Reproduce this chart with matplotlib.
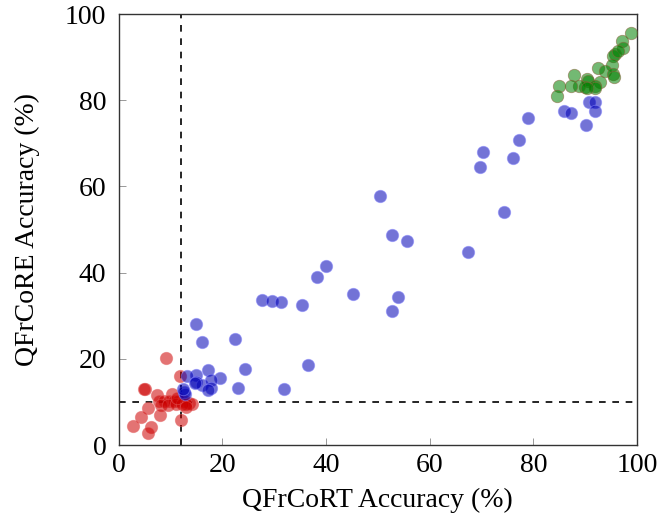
import matplotlib
matplotlib.use("Agg")
import matplotlib.pyplot as plt

plt.rcParams['font.family'] = ['Liberation Serif', 'DejaVu Serif']

# red: both accuracies low
red_x = [9.1, 11.9, 5.0, 4.9, 7.4, 10.3, 7.7, 8.7, 9.6, 10.6, 11.5, 12.5, 13.5, 14.1,
         8.2, 9.4, 11.0, 12.2, 13.0, 5.6, 8.0, 4.3, 12.0, 2.8, 6.2, 5.6, 12.9, 11.3]
red_y = [20.2, 16.0, 13.0, 13.0, 11.6, 11.9, 10.1, 10.1, 10.1, 10.1, 10.1, 10.3, 9.8, 9.6,
         9.3, 9.3, 9.4, 9.4, 9.5, 8.5, 7.0, 6.4, 5.7, 4.3, 4.1, 2.7, 8.8, 11.0]

# blue: in between
blue_x = [50.4, 52.8, 55.7, 40.0, 38.2, 45.2, 53.9, 52.8, 27.7, 29.5, 31.3, 35.3,
          14.9, 16.1, 22.5, 36.5, 24.3, 17.2, 19.5, 14.9, 13.1, 14.9, 16.0, 17.8,
          17.8, 17.2, 23.0, 31.8, 12.5, 12.7, 12.4, 14.7,
          79.0, 77.2, 70.3, 76.1, 69.7, 74.3, 67.4, 85.9, 87.2, 90.1, 90.7, 91.9, 91.9]
blue_y = [57.7, 48.7, 47.4, 41.5, 39.1, 35.0, 34.3, 31.2, 33.7, 33.4, 33.1, 32.4,
          28.0, 24.0, 24.7, 18.5, 17.7, 17.5, 15.6, 16.3, 15.9, 14.7, 13.9, 15.1,
          13.3, 12.8, 13.3, 13.0, 12.4, 11.8, 12.9, 14.4,
          76.0, 70.7, 68.0, 66.7, 64.4, 54.0, 44.7, 77.5, 77.1, 74.2, 79.7, 79.7, 77.5]

# green: both accuracies high
green_x = [98.8, 97.1, 97.3, 95.8, 95.3, 95.2, 92.4, 93.9, 95.4, 95.6, 87.9, 90.3,
           90.6, 92.9, 92.0, 92.0, 89.9, 88.8, 87.2, 84.9, 84.5, 90.4, 96.4]
green_y = [95.7, 93.8, 92.1, 90.8, 90.2, 88.2, 87.6, 86.8, 86.0, 85.5, 85.9, 85.0,
           84.4, 84.3, 83.3, 82.8, 83.1, 83.2, 83.3, 83.2, 81.0, 82.8, 91.5]

x_cut = 12
y_cut = 10

fig = plt.figure(figsize=(6.6, 5.22), dpi=100)
ax = fig.add_axes([0.180, 0.1475, 0.785, 0.8255])

ax.scatter(red_x, red_y, s=80, facecolor=(0.8, 0, 0, 0.55), edgecolor=(0.9, 0.4, 0.4, 0.5),
           linewidth=0.6, zorder=3)
ax.scatter(blue_x, blue_y, s=80, facecolor=(0, 0, 0.71, 0.55), edgecolor=(0.55, 0.55, 1, 0.6),
           linewidth=0.6, zorder=3)
ax.scatter(green_x, green_y, s=80, facecolor=(0, 0.5, 0, 0.55), edgecolor=(0.55, 0.4, 0.25, 0.6),
           linewidth=0.6, zorder=3)

ax.axvline(x_cut, color='black', linestyle=(0, (4, 4)), linewidth=1.2, zorder=2)
ax.axhline(y_cut, color='black', linestyle=(0, (4, 4)), linewidth=1.2, zorder=2)

ax.set_xlim(0, 100)
ax.set_ylim(0, 100)
ax.set_xticks([0, 20, 40, 60, 80, 100])
ax.set_yticks([0, 20, 40, 60, 80, 100])
ax.tick_params(direction='in', length=5, width=0.6, color='#888888', labelsize=20,
               top=False, right=False, pad=6)
ax.tick_params(axis='y', pad=9)
for sp in ax.spines.values():
    sp.set_linewidth(1.0)
    sp.set_color('#333333')

ax.set_xlabel('QFrCoRT Accuracy (%)', fontsize=20, labelpad=7)
ax.set_ylabel('QFrCoRE Accuracy (%)', fontsize=20, labelpad=18)

fig.savefig('out.png', dpi=100)
